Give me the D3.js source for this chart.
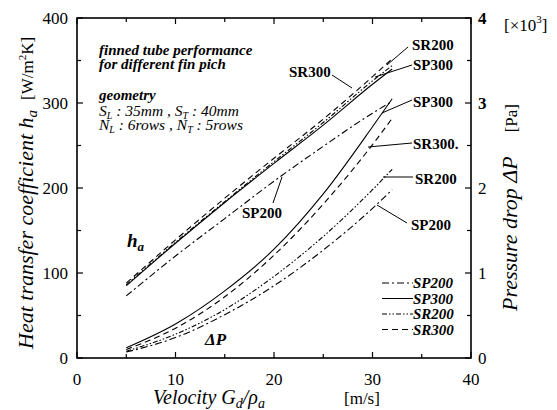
<!DOCTYPE html>
<html>
<head>
<meta charset="utf-8" />
<script src="https://d3js.org/d3.v7.min.js"></script>
<style>
  body { margin: 0; background: #fff; }
  .it { font-style: italic; }
  .curve { fill: none; stroke: #000; stroke-width: 1.1; }
</style>
</head>
<body>
<svg width="557" height="410"></svg>
<script>
// velocity points [m/s]
var velocity = [5, 10, 15, 20, 25, 30, 32];

// heat transfer coefficient h_a [W/m2K]
var haSP200 = [73, 120, 164, 208, 249, 288, 302];
var haSP300 = [85, 135, 183, 229, 274, 322, 340];
var haSR200 = [86, 136, 184, 231, 277, 326, 344];
var haSR300 = [88, 139, 188, 235, 281, 331, 352];

// pressure drop dP [x10^3 Pa]
var dpSP200 = [0.07, 0.24, 0.51, 0.85, 1.27, 1.76, 1.98];
var dpSP300 = [0.12, 0.40, 0.79, 1.28, 1.93, 2.72, 3.05];
var dpSR200 = [0.08, 0.28, 0.57, 0.96, 1.43, 1.98, 2.22];
var dpSR300 = [0.10, 0.35, 0.72, 1.21, 1.81, 2.51, 2.82];

var xTicks = [0, 10, 20, 30, 40];
var yTicks = [0, 100, 200, 300, 400];
var yRTicks = [0, 1, 2, 3, 4];

var legendNames = ['SP200', 'SP300', 'SR200', 'SR300'];

var dash = {
  SP200: '7,3,2,3',
  SP300: null,
  SR200: '5,2,1.5,2,1.5,2',
  SR300: '6,4'
};

var svg = d3.select('svg');
var L = 77, R = 471, T = 18, B = 358;

var x = d3.scaleLinear().domain([0, 40]).range([L, R]);
var y = d3.scaleLinear().domain([0, 400]).range([B, T]);
var yR = d3.scaleLinear().domain([0, 4]).range([B, T]);

// frame
svg.append('rect').attr('x', L).attr('y', T).attr('width', R - L).attr('height', B - T)
  .attr('fill', 'none').attr('stroke', '#000').attr('stroke-width', 1.6);

// ticks pointing inward
var tk = svg.append('g').attr('stroke', '#000').attr('stroke-width', 1.2);
d3.range(0, 41, 5).forEach(function (v) {
  var len = v % 10 === 0 ? 6 : 4;
  tk.append('line').attr('x1', x(v)).attr('x2', x(v)).attr('y1', B).attr('y2', B - len);
  tk.append('line').attr('x1', x(v)).attr('x2', x(v)).attr('y1', T).attr('y2', T + len);
});
d3.range(0, 401, 50).forEach(function (v) {
  var len = v % 100 === 0 ? 6 : 4;
  tk.append('line').attr('x1', L).attr('x2', L + len).attr('y1', y(v)).attr('y2', y(v));
});
d3.range(0, 4.01, 0.5).forEach(function (v) {
  var len = Math.abs(v - Math.round(v)) < 0.01 ? 6 : 4;
  tk.append('line').attr('x1', R).attr('x2', R - len).attr('y1', yR(v)).attr('y2', yR(v));
});

// tick labels
svg.selectAll('.xt').data(xTicks).enter().append('text')
  .attr('x', function (d) { return x(d); }).attr('y', 385)
  .attr('text-anchor', 'middle').attr('font-size', 17).text(function (d) { return d; });
svg.selectAll('.yt').data(yTicks).enter().append('text')
  .attr('x', 68).attr('y', function (d) { return y(d) + 6; })
  .attr('text-anchor', 'end').attr('font-size', 17).text(function (d) { return d; });
svg.selectAll('.yrt').data(yRTicks).enter().append('text')
  .attr('x', 478).attr('y', function (d) { return yR(d) + 6; })
  .attr('font-size', 17).attr('font-weight', function (d) { return d >= 3 ? 'bold' : null; })
  .text(function (d) { return d; });

// axis titles
var xl = svg.append('text').attr('x', 153).attr('y', 404).attr('font-size', 20);
xl.append('tspan').attr('class', 'it').text('Velocity  G');
xl.append('tspan').attr('class', 'it').attr('font-size', 14).attr('dy', 4).text('d');
xl.append('tspan').attr('class', 'it').attr('dy', -4).text('/ρ');
xl.append('tspan').attr('class', 'it').attr('font-size', 14).attr('dy', 4).text('a');
svg.append('text').attr('x', 344).attr('y', 404).attr('font-size', 17).text('[m/s]');

var ylab = svg.append('text').attr('transform', 'translate(33,349) rotate(-90)').attr('font-size', 22);
ylab.append('tspan').attr('class', 'it').text('Heat transfer coefficient  h');
ylab.append('tspan').attr('class', 'it').attr('font-size', 15).attr('dy', 4).text('a');
ylab.append('tspan').attr('dy', -4).attr('font-size', 17).attr('dx', 10).text('[W/m');
ylab.append('tspan').attr('font-size', 11).attr('dy', -7).text('2');
ylab.append('tspan').attr('font-size', 17).attr('dy', 7).text('K]');

var yrlab = svg.append('text').attr('transform', 'translate(517,311) rotate(-90)').attr('font-size', 22);
yrlab.append('tspan').attr('class', 'it').text('Pressure drop  ΔP');
yrlab.append('tspan').attr('font-size', 17).attr('dx', 24).text('[Pa]');

var ex = svg.append('text').attr('x', 504).attr('y', 31).attr('font-size', 17);
ex.append('tspan').text('[×10');
ex.append('tspan').attr('font-size', 11).attr('dy', -8).text('3');
ex.append('tspan').attr('dy', 8).text(']');

// curves
var line = d3.line()
  .x(function (d) { return x(d[0]); })
  .y(function (d) { return d[2](d[1]); })
  .curve(d3.curveMonotoneX);

var series = [
  { name: 'SP200', v: haSP200, s: y }, { name: 'SP300', v: haSP300, s: y },
  { name: 'SR200', v: haSR200, s: y }, { name: 'SR300', v: haSR300, s: y },
  { name: 'SP200', v: dpSP200, s: yR }, { name: 'SP300', v: dpSP300, s: yR },
  { name: 'SR200', v: dpSR200, s: yR }, { name: 'SR300', v: dpSR300, s: yR }
];
series.forEach(function (sr) {
  var pts = velocity.map(function (vx, i) { return [vx, sr.v[i], sr.s]; });
  svg.append('path').attr('class', 'curve').attr('d', line(pts))
    .attr('stroke-dasharray', dash[sr.name]);
});

// annotation block
var note = [
  ['finned tube performance', 55], ['for different fin pich', 69], ['geometry', 100]
];
note.forEach(function (n) {
  svg.append('text').attr('class', 'it').attr('x', 99).attr('y', n[1])
    .attr('font-size', 15).attr('font-weight', 'bold').text(n[0]);
});
function subLine(yy, a, b, c, d) {
  var t = svg.append('text').attr('class', 'it').attr('x', 99).attr('y', yy)
    .attr('font-size', 15.5);
  t.append('tspan').text(a[0]);
  t.append('tspan').attr('font-size', 10).attr('dy', 3).text(a[1]);
  t.append('tspan').attr('dy', -3).text(b);
  t.append('tspan').text(c[0]);
  t.append('tspan').attr('font-size', 10).attr('dy', 3).text(c[1]);
  t.append('tspan').attr('dy', -3).text(d);
}
subLine(116, ['S', 'L'], ' : 35mm , ', ['S', 'T'], ' : 40mm');
subLine(130, ['N', 'L'], ' : 6rows , ', ['N', 'T'], ' : 5rows');

// curve labels with leaders
var labels = [
  { t: 'SR200', x: 412, y: 50, lx: [408, 387], ly: [47, 65] },
  { t: 'SP300', x: 413, y: 70, lx: [412, 375], ly: [65, 77] },
  { t: 'SP300', x: 413, y: 107, lx: [412, 382], ly: [100, 113] },
  { t: 'SR300.', x: 413, y: 149, lx: [412, 368], ly: [143, 147] },
  { t: 'SR200', x: 415, y: 184, lx: [413, 383], ly: [177, 177] },
  { t: 'SP200', x: 411, y: 230, lx: [407, 377], ly: [223, 205] },
  { t: 'SR300', x: 289, y: 77, lx: [332, 352], ly: [75, 88] },
  { t: 'SP200', x: 242, y: 218, lx: [273, 282], ly: [203, 177] }
];
labels.forEach(function (l) {
  svg.append('text').attr('x', l.x).attr('y', l.y).attr('font-size', 15)
    .attr('font-weight', 'bold').text(l.t);
  svg.append('line').attr('x1', l.lx[0]).attr('y1', l.ly[0]).attr('x2', l.lx[1]).attr('y2', l.ly[1])
    .attr('stroke', '#000').attr('stroke-width', 1);
});

var ha = svg.append('text').attr('class', 'it').attr('x', 127).attr('y', 247)
  .attr('font-size', 19).attr('font-weight', 'bold');
ha.append('tspan').text('h');
ha.append('tspan').attr('font-size', 13).attr('dy', 4).text('a');
svg.append('text').attr('class', 'it').attr('x', 205).attr('y', 345)
  .attr('font-size', 17).attr('font-weight', 'bold').text('ΔP');

// legend
legendNames.forEach(function (n, i) {
  var ly = 283 + i * 15.5;
  svg.append('line').attr('x1', 382).attr('x2', 413).attr('y1', ly).attr('y2', ly)
    .attr('stroke', '#000').attr('stroke-width', 1).attr('stroke-dasharray', dash[n]);
  svg.append('text').attr('class', 'it').attr('x', 413).attr('y', ly + 5)
    .attr('font-size', 15).attr('font-weight', 'bold').text(n);
});

svg.selectAll('text').style('font-family', 'Liberation Serif');
</script>
</body>
</html>
